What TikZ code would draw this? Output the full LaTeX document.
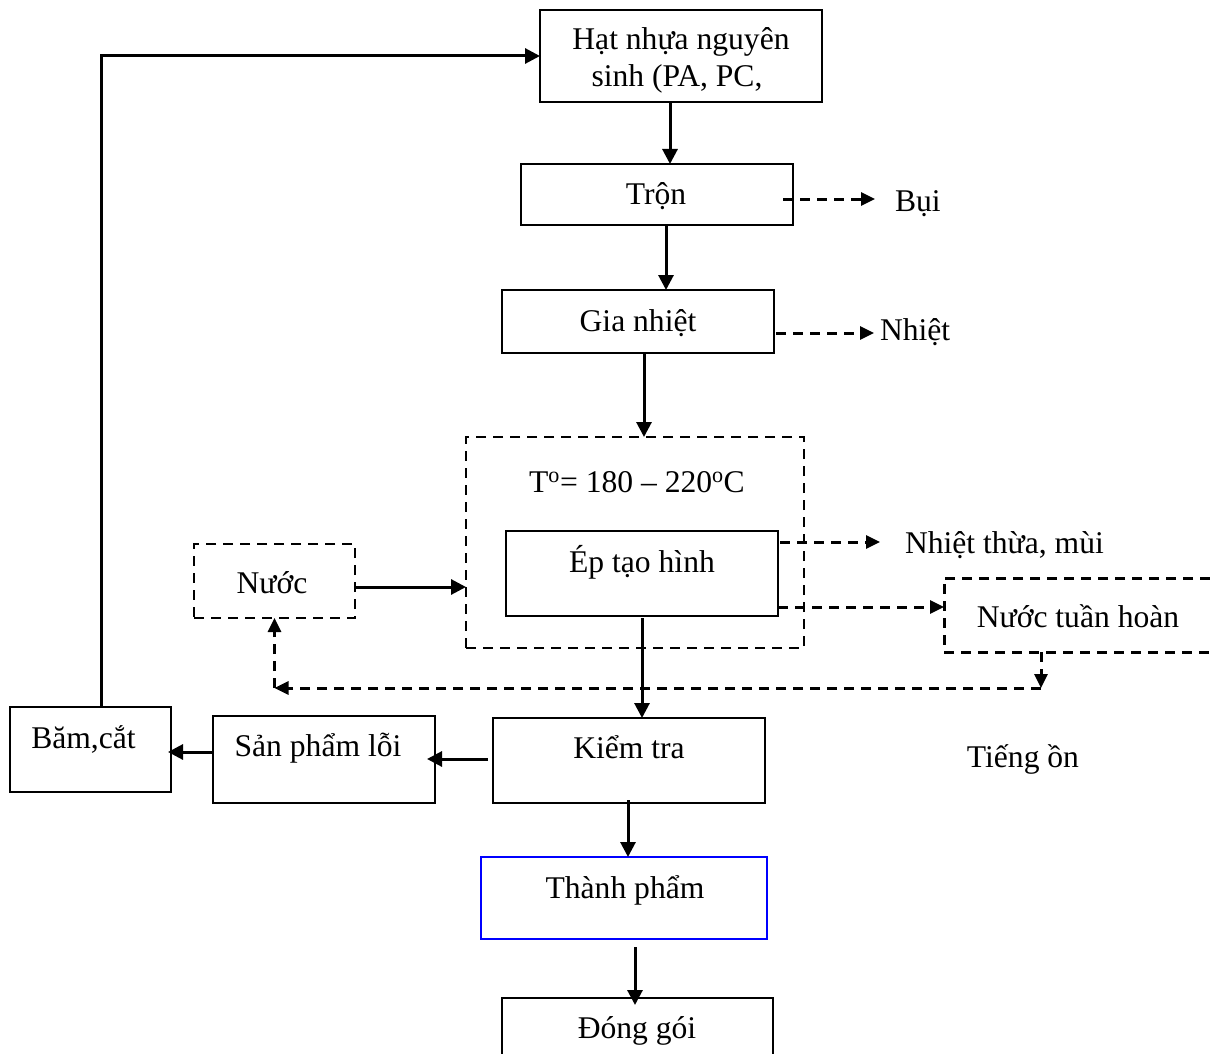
\documentclass[tikz,border=0pt]{standalone}
\usepackage{fontspec}
\setmainfont{Liberation Serif}
\usetikzlibrary{arrows.meta,calc}
\tikzset{
  box/.style={draw, line width=2.9pt, rectangle, inner sep=0pt, outer sep=0pt},
  dbox/.style={draw, line width=2.8pt, dash pattern=on 10pt off 7pt, rectangle, inner sep=0pt, outer sep=0pt},
  ghost/.style={rectangle, inner sep=0pt, outer sep=0pt},
  txt/.style={font=\fontsize{31.6}{37}\selectfont, inner sep=0pt, outer sep=0pt, anchor=base},
  arr/.style={line width=3pt, -{Triangle[length=15pt,width=15pt]}},
  darr/.style={line width=3pt, dash pattern=on 10pt off 7pt, -{Triangle[length=14pt,width=13pt]}},
  dline/.style={line width=3pt, dash pattern=on 10pt off 7pt},
}
\begin{document}
\begin{tikzpicture}[x=1pt,y=-1pt]
\useasboundingbox (0,0) rectangle (1210,1054);
\clip (0,0) rectangle (1210,1054);
\fill[white] (0,0) rectangle (1210,1054);

% boxes
\node[box, minimum width=282, minimum height=92] (hat) at (681,56) {};
\node[box, minimum width=272, minimum height=61] (tron) at (657,194.5) {};
\node[box, minimum width=272, minimum height=63] (gia) at (638,321.5) {};
\node[dbox, minimum width=338, minimum height=211] (outer) at (635,542.5) {};
\node[box, minimum width=272, minimum height=85] (ep) at (642,573.5) {};
\node[dbox, minimum width=161, minimum height=74] (nuoc) at (274.5,581) {};
\node[ghost, minimum width=266, minimum height=74] (nth) at (1077,615) {};
\draw[dline] (nth.north east) -- (nth.north west) -- (nth.south west) -- (nth.south east);
\node[box, minimum width=272, minimum height=85] (kiem) at (629,760.5) {};
\node[box, minimum width=222, minimum height=87] (sp) at (324,759.5) {};
\node[box, minimum width=161, minimum height=85] (bam) at (90.5,749.5) {};
\node[box, draw=blue, line width=2.3pt, minimum width=286, minimum height=82] (thanh) at (624,898) {};
\node[box, minimum width=271, minimum height=82] (dong) at (637.5,1039) {};

% texts
\node[txt] (hat1) at (681,50) {Hạt nhựa nguyên};
\node[txt] (hat2) at (677,87) {sinh (PA, PC,};
\node[txt] (tront) at (656,204) {Trộn};
\node[txt, anchor=base west] (bui) at (895,211) {Bụi};
\node[txt] (giat) at (638,331) {Gia nhiệt};
\node[txt, anchor=base west] (nhiet) at (880,340) {Nhiệt};
\node[txt] (temp) at (637,492) {T\textsuperscript{o}= 180 – 220\textsuperscript{o}C};
\node[txt] (ept) at (642,572) {Ép tạo hình};
\node[txt, anchor=base west] (nhietthua) at (905,553) {Nhiệt thừa, mùi};
\node[txt] (nuoct) at (272,593) {Nước};
\node[txt] (ntht) at (1078,627) {Nước tuần hoàn};
\node[txt] (kiemt) at (629,758) {Kiểm tra};
\node[txt] (spt) at (318,756) {Sản phẩm lỗi};
\node[txt] (bamt) at (83.5,748) {Băm,cắt};
\node[txt] (tieng) at (1023,767) {Tiếng ồn};
\node[txt] (thanht) at (625,898) {Thành phẩm};
\node[txt] (dongt) at (637,1038) {Đóng gói};

% helper coordinates
\coordinate (c1) at ($(bam.north west)+(91,0)$);
\coordinate (c2) at ($(hat.south)+(-11,0)$);
\coordinate (c3) at ($(tron.south)+(9,0)$);
\coordinate (c4) at ($(gia.south)+(6,0)$);
\coordinate (c5) at ($(nuoc.east)+(0,6)$);
\coordinate (c6) at ($(ep.south)+(0,2)$);
\coordinate (c7) at ($(kiem.west)+(-5,-1.5)$);
\coordinate (c8) at ($(sp.west)+(0,-7.5)$);
\coordinate (c9) at ($(kiem.south)+(-1,-3)$);
\coordinate (c10) at ($(thanh.south)+(11,8)$);
\coordinate (d1) at ($(tron.east)+(-10,4.5)$);
\coordinate (d2) at ($(gia.east)+(2,11.5)$);
\coordinate (d3) at ($(ep.east)+(2,-31.5)$);
\coordinate (d4) at ($(ep.east)+(0,33.5)$);
\coordinate (buitip) at (875,199);
\coordinate (nhiettip) at (874,333);
\coordinate (nttip) at (880,542);
\coordinate (retR) at (1041,688);
\coordinate (retL) at (274.5,688);

% solid connectors
\draw[arr] (c1) |- (hat.west);
\draw[arr] (c2) -- (c2 |- tron.north);
\draw[arr] (c3) -- (c3 |- gia.north);
\draw[arr] (c4) -- (c4 |- outer.north);
\draw[arr] (c5) -- (c5 -| outer.west);
\draw[arr] (c6) -- (c6 |- kiem.north);
\draw[arr, shorten >=-8pt] (c7) -- (c7 -| sp.east);
\draw[arr, shorten >=-3pt] (c8) -- (c8 -| bam.east);
\draw[arr] (c9) -- (c9 |- thanh.north);
\draw[arr, shorten >=-7pt] (c10) -- (c10 |- dong.north);

% dashed connectors
\draw[darr] (d1) -- (buitip);
\draw[darr] (d2) -- (nhiettip);
\draw[darr] (d3) -- (nttip);
\draw[darr] (d4) -- (d4 -| nth.west);
\draw[darr] (nth.south west -| retR) -- (retR);
\draw[darr] (retR) -- (retL);
\draw[darr] (retL) -- (nuoc.south);
\end{tikzpicture}
\end{document}
